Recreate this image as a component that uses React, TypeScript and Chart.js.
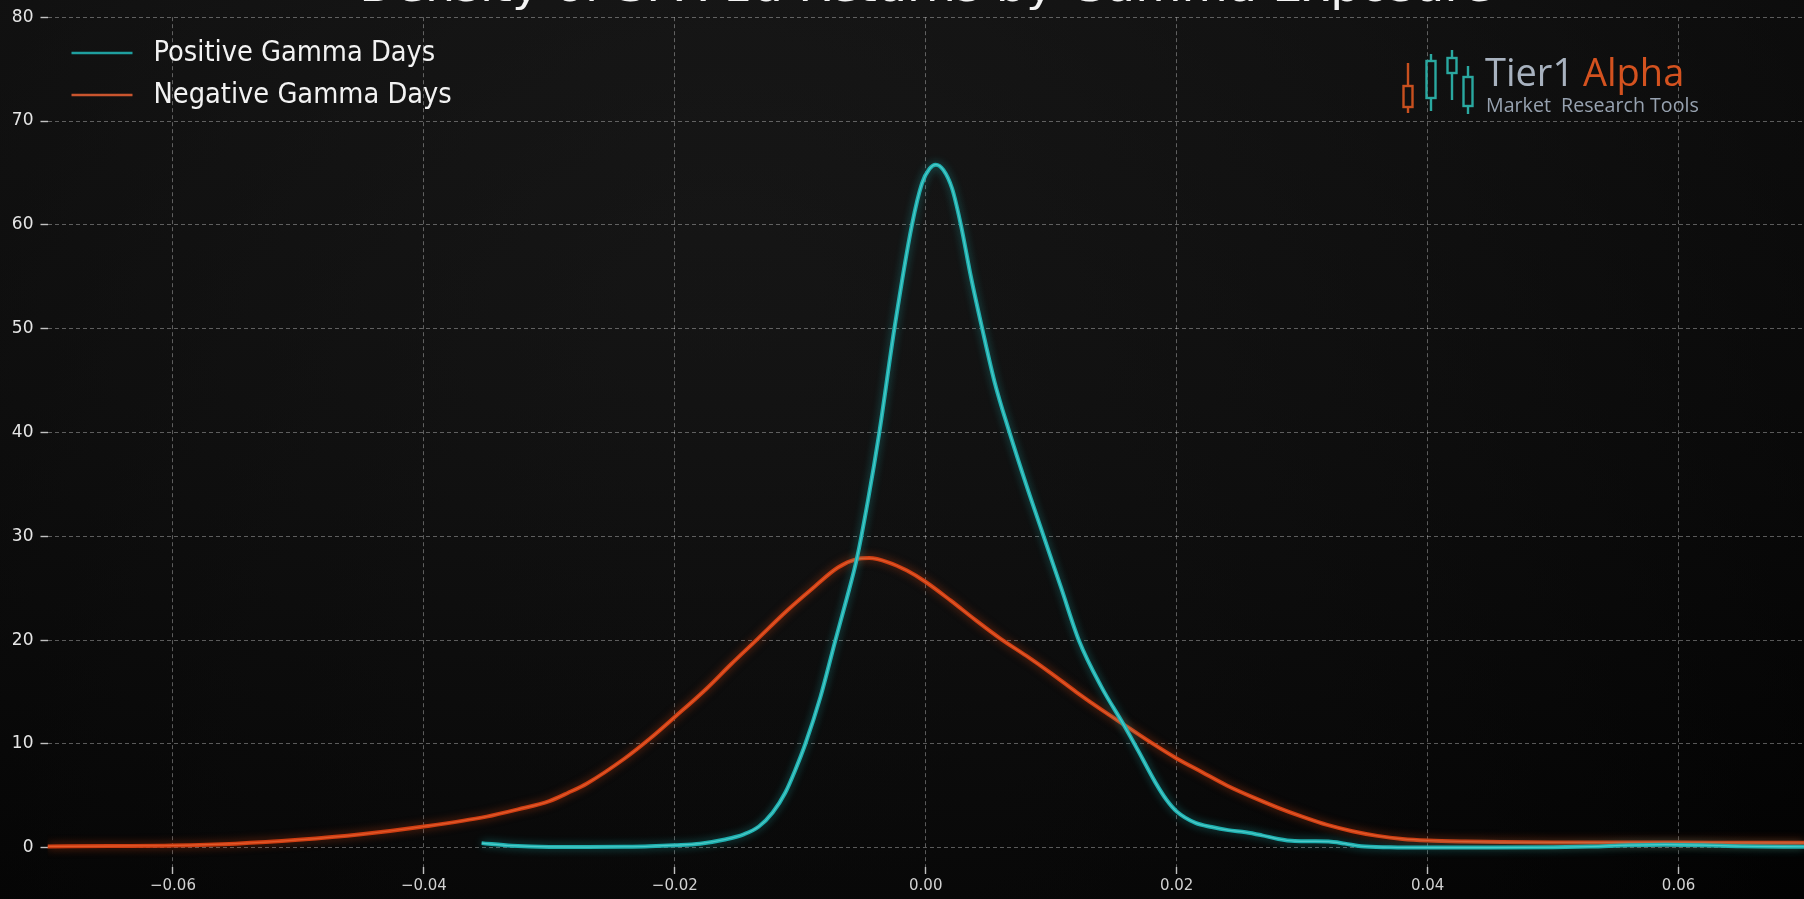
import React, { useEffect, useRef } from "react";
import { Chart, registerables } from "chart.js";

Chart.register(...registerables);

const TITLE = "Density of SPX 1d Returns by Gamma Exposure";
const seriesLabels = ["Positive Gamma Days", "Negative Gamma Days"];
const xTicks = [-0.06, -0.04, -0.02, 0, 0.02, 0.04, 0.06];
const yTicks = [0, 10, 20, 30, 40, 50, 60, 70, 80];

const posX = [
  -0.0354, -0.033, -0.03, -0.027, -0.024, -0.022, -0.02, -0.018, -0.016, -0.0145,
  -0.0133, -0.0122, -0.0112, -0.0104, -0.0096, -0.0084, -0.0072, -0.0063, -0.0055, -0.0046,
  -0.0037, -0.0025, -0.0011, -0.0003, 0.0003, 0.0008, 0.0014, 0.0021, 0.0028, 0.0036,
  0.0045, 0.0055, 0.0066, 0.008, 0.0094, 0.0108, 0.0122, 0.014, 0.0158, 0.017,
  0.0183, 0.0192, 0.02, 0.0215, 0.0228, 0.0241, 0.0255, 0.0268, 0.0281, 0.0294,
  0.0308, 0.0321, 0.0334, 0.0347, 0.037, 0.04, 0.045, 0.05, 0.053, 0.056,
  0.059, 0.062, 0.065, 0.07,
];
const posY = [
  0.45, 0.2, 0.08, 0.07, 0.1, 0.15, 0.25, 0.4, 0.8, 1.3,
  2.05, 3.4, 5.3, 7.5, 10.0, 14.5, 20.0, 24.0, 27.8, 33.5,
  40.0, 50.0, 60.0, 64.0, 65.4, 65.8, 65.3, 63.5, 60.0, 55.0,
  50.0, 44.8, 40.3, 35.0, 30.0, 25.0, 20.0, 15.5, 11.8, 9.2,
  6.3, 4.6, 3.5, 2.4, 2.0, 1.7, 1.5, 1.2, 0.85, 0.65,
  0.62, 0.6, 0.4, 0.15, 0.05, 0.02, 0.02, 0.05, 0.12, 0.25,
  0.3, 0.25, 0.15, 0.1,
];

const negX = [
  -0.07, -0.065, -0.06, -0.055, -0.05, -0.045, -0.04, -0.035, -0.0325, -0.03,
  -0.0285, -0.027, -0.024, -0.022, -0.02, -0.0175, -0.0155, -0.0135, -0.011, -0.0091,
  -0.007, -0.0055, -0.0045, -0.003, -0.0015, 0, 0.002, 0.004, 0.006, 0.008,
  0.01, 0.012, 0.014, 0.016, 0.018, 0.02, 0.022, 0.024, 0.026, 0.028,
  0.03, 0.032, 0.034, 0.036, 0.038, 0.04, 0.043, 0.046, 0.05, 0.055,
  0.06, 0.065, 0.07,
];
const negY = [
  0.13, 0.17, 0.22, 0.4, 0.77, 1.3, 2.05, 3.0, 3.7, 4.5,
  5.3, 6.2, 8.6, 10.5, 12.6, 15.3, 17.7, 20.0, 22.9, 24.9,
  27.0, 27.8, 27.9, 27.5, 26.7, 25.6, 23.8, 21.9, 20.1, 18.5,
  16.8, 15.0, 13.3, 11.7, 10.1, 8.6, 7.3, 6.0, 4.9, 3.9,
  3.0, 2.2, 1.6, 1.15, 0.85, 0.7, 0.6, 0.55, 0.52, 0.5,
  0.5, 0.48, 0.48,
];

const TEAL = "rgb(30,176,176)";
const TEAL_GLOW = "rgba(30,200,200,0.45)";
const TEAL_HI = "rgba(150,240,235,0.4)";
const ORANGE = "rgb(208,62,18)";
const ORANGE_GLOW = "rgba(235,75,20,0.5)";
const ORANGE_HI = "rgba(255,140,90,0.35)";
const LEGEND_COLORS = ["#1f9f9f", "#c9552e"];

function fmtX(v: number): string {
  if (Math.abs(v) < 1e-9) return "0.00";
  return (v < 0 ? "\u2212" : "") + Math.abs(v).toFixed(2);
}

function pts(xs: number[], ys: number[]) {
  return xs.map((x, i) => ({ x, y: ys[i] }));
}

const bgPlugin = {
  id: "bg",
  beforeDraw(chart: any) {
    const { ctx, width, height } = chart;
    ctx.save();
    const g = ctx.createLinearGradient(0, 0, 0, height);
    g.addColorStop(0, "#121212");
    g.addColorStop(0.45, "#0d0d0d");
    g.addColorStop(1, "#030303");
    ctx.fillStyle = g;
    ctx.fillRect(0, 0, width, height);
    const r = ctx.createRadialGradient(width * 0.4, height * 0.3, 50, width * 0.4, height * 0.3, width * 0.7);
    r.addColorStop(0, "rgba(35,35,35,0.3)");
    r.addColorStop(1, "rgba(0,0,0,0.4)");
    ctx.fillStyle = r;
    ctx.fillRect(0, 0, width, height);
    ctx.restore();
  },
};

const glowPlugin = {
  id: "glow",
  beforeDatasetDraw(chart: any, args: any) {
    const ds = chart.data.datasets[args.index];
    chart.ctx.save();
    if (ds.glowColor) {
      chart.ctx.shadowColor = ds.glowColor;
      chart.ctx.shadowBlur = 8;
    }
  },
  afterDatasetDraw(chart: any) {
    chart.ctx.restore();
  },
};

function fitSize(ctx: any, text: string, family: string, weight: string, target: number, base: number) {
  ctx.font = `${weight} ${base}px ${family}`;
  const w = ctx.measureText(text).width;
  return (base * target) / w;
}

const overlayPlugin = {
  id: "overlay",
  afterDraw(chart: any) {
    const { ctx, chartArea } = chart;
    ctx.save();
    // Title (mostly cropped at the top)
    const tFam = '"DejaVu Sans", sans-serif';
    const tSize = 40;
    ctx.font = `normal ${tSize}px ${tFam}`;
    const tw = ctx.measureText(TITLE).width;
    const cx = (chartArea.left + chartArea.right) / 2;
    ctx.save();
    ctx.translate(cx, 1);
    ctx.scale(1133 / tw, 1);
    ctx.fillStyle = "#f4f4f4";
    ctx.textAlign = "center";
    ctx.textBaseline = "alphabetic";
    ctx.fillText(TITLE, 0, 0);
    ctx.restore();

    // Legend
    const lFam = '"DejaVu Sans Condensed", "DejaVu Sans", sans-serif';
    const lSize = fitSize(ctx, seriesLabels[0], lFam, "normal", 282, 24);
    ctx.font = `normal ${lSize}px ${lFam}`;
    ctx.textBaseline = "middle";
    ctx.textAlign = "left";
    const rows = [53, 95];
    seriesLabels.forEach((lab, i) => {
      const y = rows[i];
      ctx.strokeStyle = LEGEND_COLORS[i];
      ctx.lineWidth = 2.6;
      ctx.beginPath();
      ctx.moveTo(chartArea.left + 24, y);
      ctx.lineTo(chartArea.left + 85, y);
      ctx.stroke();
      ctx.fillStyle = "#f2f2f2";
      ctx.fillText(lab, chartArea.left + 106, y + 1);
    });

    // Logo
    const candles = [
      { x: 1408, w1: 63, w2: 113, b1: 86, b2: 107, c: "#c8501f" },
      { x: 1431, w1: 54, w2: 111, b1: 61, b2: 98, c: "#2aa8a0" },
      { x: 1452, w1: 50, w2: 100, b1: 58, b2: 73, c: "#2aa8a0" },
      { x: 1468, w1: 66, w2: 114, b1: 77, b2: 106, c: "#2aa8a0" },
    ];
    candles.forEach((k) => {
      ctx.strokeStyle = k.c;
      ctx.lineWidth = 2.4;
      ctx.beginPath();
      ctx.moveTo(k.x, k.w1);
      ctx.lineTo(k.x, k.b1);
      ctx.moveTo(k.x, k.b2);
      ctx.lineTo(k.x, k.w2);
      ctx.stroke();
      ctx.strokeRect(k.x - 4.5, k.b1, 9, k.b2 - k.b1);
    });
    const oFam = '"Open Sans", "DejaVu Sans", sans-serif';
    ctx.textBaseline = "alphabetic";
    ctx.font = `normal 38px ${oFam}`;
    ctx.fillStyle = "#a8b2bf";
    ctx.fillText("Tier1", 1485, 86);
    ctx.fillStyle = "#d4521f";
    ctx.fillText("Alpha", 1583, 86);
    const sSize = fitSize(ctx, "Market  Research Tools", oFam, "normal", 213, 19);
    ctx.font = `normal ${sSize}px ${oFam}`;
    ctx.fillStyle = "#97a2b0";
    ctx.fillText("Market  Research Tools", 1486, 112);
    ctx.restore();
  },
};

export default function App() {
  const ref = useRef<HTMLCanvasElement | null>(null);
  useEffect(() => {
    document.body.style.margin = "0";
    document.body.style.background = "#000";
    const canvas = ref.current;
    if (!canvas) return;
    const chart = new Chart(canvas, {
      type: "line",
      data: {
        datasets: [
          {
            label: seriesLabels[0] + " hi",
            data: pts(posX, posY),
            borderColor: TEAL_HI,
            borderWidth: 1.2,
            pointRadius: 0,
            cubicInterpolationMode: "monotone",
            order: 0,
          },
          {
            label: seriesLabels[0],
            data: pts(posX, posY),
            borderColor: TEAL,
            borderWidth: 4,
            pointRadius: 0,
            cubicInterpolationMode: "monotone",
            glowColor: TEAL_GLOW,
            order: 1,
          },
          {
            label: seriesLabels[1] + " hi",
            data: pts(negX, negY),
            borderColor: ORANGE_HI,
            borderWidth: 1.2,
            pointRadius: 0,
            cubicInterpolationMode: "monotone",
            order: 2,
          },
          {
            label: seriesLabels[1],
            data: pts(negX, negY),
            borderColor: ORANGE,
            borderWidth: 4,
            pointRadius: 0,
            cubicInterpolationMode: "monotone",
            glowColor: ORANGE_GLOW,
            order: 3,
          },
        ] as any,
      },
      options: {
        responsive: false,
        animation: false,
        events: [],
        layout: { padding: { top: 16, left: 0, right: 0, bottom: 0 } },
        plugins: {
          legend: { display: false },
          tooltip: { enabled: false },
          title: { display: false },
        },
        scales: {
          x: {
            type: "linear",
            min: -0.07,
            max: 0.07,
            afterBuildTicks: (s: any) => {
              s.ticks = xTicks.map((v) => ({ value: v }));
            },
            afterFit: (s: any) => {
              s.height = 32;
            },
            ticks: {
              callback: (v: any) => fmtX(Number(v)),
              color: "#d2d2d2",
              font: { family: '"DejaVu Sans", sans-serif', size: 15 },
              padding: 3,
              maxRotation: 0,
              autoSkip: false,
            },
            grid: {
              color: "rgba(255,255,255,0.33)",
              lineWidth: 1,
              drawTicks: true,
              tickLength: 7,
              tickColor: "rgba(255,255,255,0.75)",
              tickWidth: 1.4,
              tickBorderDash: [],
            },
            border: { display: false, dash: [4, 3] },
          },
          y: {
            type: "linear",
            min: -1.85,
            max: 80,
            afterBuildTicks: (s: any) => {
              s.ticks = yTicks.map((v) => ({ value: v }));
            },
            afterFit: (s: any) => {
              s.width = 47.5;
            },
            ticks: {
              callback: (v: any) => String(v),
              color: "#e6e6e6",
              font: { family: '"DejaVu Sans", sans-serif', size: 17 },
              padding: 7,
            },
            grid: {
              color: "rgba(255,255,255,0.33)",
              lineWidth: 1,
              drawTicks: true,
              tickLength: 7,
              tickColor: "rgba(255,255,255,0.75)",
              tickWidth: 1.4,
              tickBorderDash: [],
            },
            border: { display: false, dash: [4, 3] },
          },
        },
      } as any,
      plugins: [bgPlugin, glowPlugin, overlayPlugin],
    });
    return () => chart.destroy();
  }, []);
  return (
    <div style={{ position: "fixed", left: 0, top: 0, width: 1804, height: 899 }}>
      <canvas ref={ref} width={1804} height={899} style={{ display: "block", width: 1804, height: 899 }} />
    </div>
  );
}
